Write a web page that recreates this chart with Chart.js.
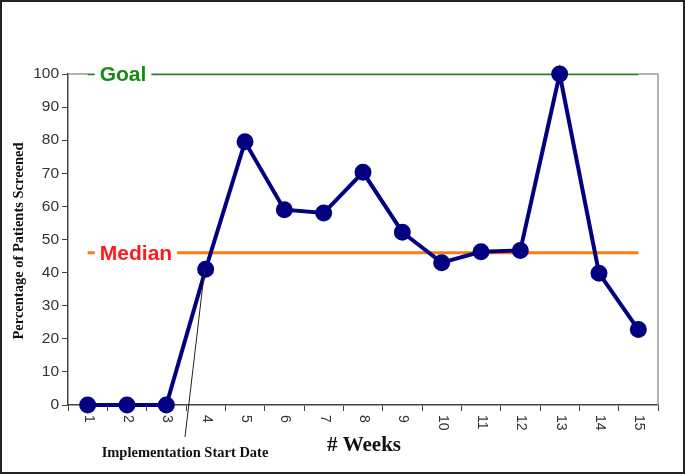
<!DOCTYPE html>
<html>
<head>
<meta charset="utf-8">
<script src="https://cdn.jsdelivr.net/npm/chart.js@4"></script>
<style>
  body { margin: 0; background: #fff; }
  #wrap { width: 685px; height: 474px; }
</style>
</head>
<body>
<div id="wrap"><canvas id="myChart" width="685" height="474"></canvas></div>
<script>
// chart data
const weeks = ["1", "2", "3", "4", "5", "6", "7", "8", "9", "10", "11", "12", "13", "14", "15"];
const screened = [0, 0, 0, 41, 79.5, 59, 58, 70.3, 52.2, 43, 46.3, 46.7, 100, 39.8, 22.8];
const goalValue = 100;
const medianValue = 46;
const yTicks = [0, 10, 20, 30, 40, 50, 60, 70, 80, 90, 100];
const startWeekIndex = 3; // week 4

let ctx = document.getElementById("myChart").getContext("2d");

let annotations = {
    id: "annotations",
    beforeDatasetsDraw(chart) {
        let c = chart.ctx, a = chart.chartArea;
        c.save();
        c.strokeStyle = "#9a9a9a";
        c.lineWidth = 1.5;
        c.beginPath();
        c.moveTo(a.left, a.top);
        c.lineTo(a.right, a.top);
        c.lineTo(a.right, a.bottom);
        c.stroke();
        c.restore();
    },
    afterDatasetsDraw(chart) {
        let c = chart.ctx, x = chart.scales.x, y = chart.scales.y;
        c.save();
        // line labels with white gap
        function lineLabel(text, cx, value, color) {
            c.font = "bold 21px 'Liberation Sans', Arial, sans-serif";
            let w = c.measureText(text).width;
            let py = y.getPixelForValue(value);
            c.fillStyle = "#fff";
            c.fillRect(cx - w / 2 - 5, py - 12, w + 10, 24);
            c.fillStyle = color;
            c.textAlign = "center";
            c.textBaseline = "middle";
            c.fillText(text, cx, py + 1);
        }
        lineLabel("Goal", 123, goalValue, "#158a15");
        lineLabel("Median", 136, medianValue, "#ff1a1a");

        // x tick labels, rotated top-to-bottom
        c.font = "14px 'Liberation Sans', Arial, sans-serif";
        c.fillStyle = "#333";
        c.textAlign = "left";
        c.textBaseline = "middle";
        weeks.forEach((w, i) => {
            c.save();
            c.translate(x.getPixelForValue(i) + 1, y.bottom + 10);
            c.rotate(Math.PI / 2);
            c.fillText(w, 0, 0);
            c.restore();
        });

        // axis titles
        c.fillStyle = "#111";
        c.textAlign = "center";
        c.font = "bold 21px 'Liberation Serif', 'Times New Roman', serif";
        c.fillText("# Weeks", 364, 446);
        c.font = "bold 14.5px 'Liberation Serif', 'Times New Roman', serif";
        c.fillText("Implementation Start Date", 185, 453);
        c.save();
        c.translate(19, 241);
        c.rotate(-Math.PI / 2);
        c.fillText("Percentage of Patients Screened", 0, 0);
        c.restore();

        // pointer line to implementation week
        c.strokeStyle = "#222";
        c.lineWidth = 1;
        c.beginPath();
        c.moveTo(185, 437);
        c.lineTo(x.getPixelForValue(startWeekIndex) - 1, y.getPixelForValue(screened[startWeekIndex]));
        c.stroke();

        // outer frame
        c.strokeStyle = "#222";
        c.lineWidth = 2;
        c.strokeRect(1, 1, chart.width - 2, chart.height - 2);
        c.restore();
    }
};

let screenChart = new Chart(ctx, {
    type: "line",
    data: {
        labels: weeks,
        datasets: [
            {
                label: "Screened",
                data: screened,
                borderColor: "#000080",
                backgroundColor: "#000080",
                borderWidth: 4,
                pointRadius: 6.5,
                pointHoverRadius: 6.5,
                lineTension: 0,
                clip: false,
                order: 0
            },
            {
                label: "Median",
                data: weeks.map(() => medianValue),
                borderColor: "#ff7a10",
                borderWidth: 3,
                pointRadius: 0,
                order: 1
            },
            {
                label: "Goal",
                data: weeks.map(() => goalValue),
                borderColor: "#158a15",
                borderWidth: 2.5,
                pointRadius: 0,
                order: 2
            }
        ]
    },
    options: {
        responsive: false,
        animation: false,
        layout: { padding: { top: 74, right: 27, bottom: 0, left: 0 } },
        plugins: { legend: { display: false }, tooltip: { enabled: false } },
        scales: {
            x: {
                offset: true,
                grid: { offset: true, drawOnChartArea: false, tickLength: 6, color: "#444" },
                border: { color: "#444", width: 1.5 },
                ticks: { callback: () => "", maxRotation: 0 },
                afterFit(scale) { scale.height = 69; }
            },
            y: {
                min: 0,
                max: 100,
                afterBuildTicks(scale) { scale.ticks = yTicks.map(v => ({ value: v })); },
                grid: { drawOnChartArea: false, tickLength: 6, color: "#444" },
                border: { color: "#444", width: 1.5 },
                ticks: {
                    color: "#333",
                    padding: 3,
                    font: { family: "'Liberation Sans', Arial, sans-serif", size: 15.5 }
                },
                afterFit(scale) { scale.width = 68; }
            }
        }
    },
    plugins: [annotations]
});
</script>
</body>
</html>
